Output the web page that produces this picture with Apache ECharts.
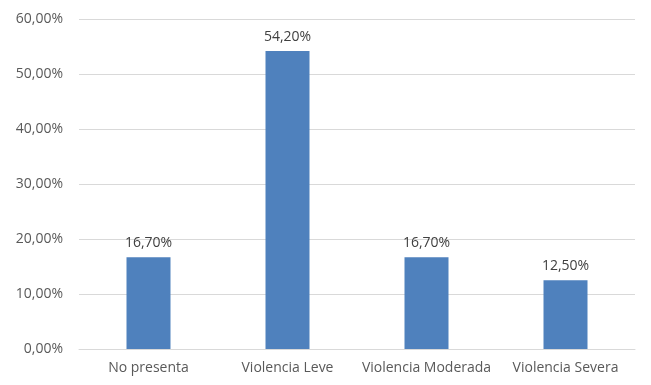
<!DOCTYPE html>
<html>
<head>
<meta charset="utf-8">
<script src="https://cdn.jsdelivr.net/npm/echarts@6/dist/echarts.min.js"></script>
<style>
  html, body { margin: 0; padding: 0; background: #fff; }
  #chart { width: 651px; height: 385px; }
</style>
</head>
<body>
<div id="chart"></div>
<script>
// Categories and percentage values for each bar
const categories = ['No presenta', 'Violencia Leve', 'Violencia Moderada', 'Violencia Severa'];
const values = [16.7, 54.2, 16.7, 12.5];
const yTicks = [0, 10, 20, 30, 40, 50, 60];

const fmtPct = v => v.toFixed(2).replace('.', ',') + '%';
const fontFamily = '"Open Sans", "Liberation Sans", sans-serif';

const chart = echarts.init(document.getElementById('chart'), null, { renderer: 'canvas' });
chart.setOption({
  animation: false,
  backgroundColor: '#ffffff',
  grid: { left: 79, right: 16, top: 19, bottom: 36, containLabel: false },
  xAxis: {
    type: 'category',
    data: categories,
    axisLine: { show: true, lineStyle: { color: '#d9d9d9', width: 1 } },
    axisTick: { show: false },
    axisLabel: { color: '#595959', fontSize: 14, fontFamily: fontFamily, margin: 12, interval: 0 }
  },
  yAxis: {
    type: 'value',
    min: yTicks[0],
    max: yTicks[yTicks.length - 1],
    interval: 10,
    axisLine: { show: false },
    axisTick: { show: false },
    splitLine: { lineStyle: { color: '#d9d9d9', width: 1 } },
    axisLabel: { color: '#595959', fontSize: 14, fontFamily: fontFamily, margin: 16, formatter: fmtPct }
  },
  series: [{
    type: 'bar',
    data: values,
    barWidth: 44,
    itemStyle: { color: '#4f81bd' },
    label: {
      show: true,
      position: 'top',
      distance: 7,
      color: '#404040',
      fontSize: 14,
      fontFamily: fontFamily,
      formatter: p => fmtPct(p.value)
    }
  }]
});
</script>
</body>
</html>
